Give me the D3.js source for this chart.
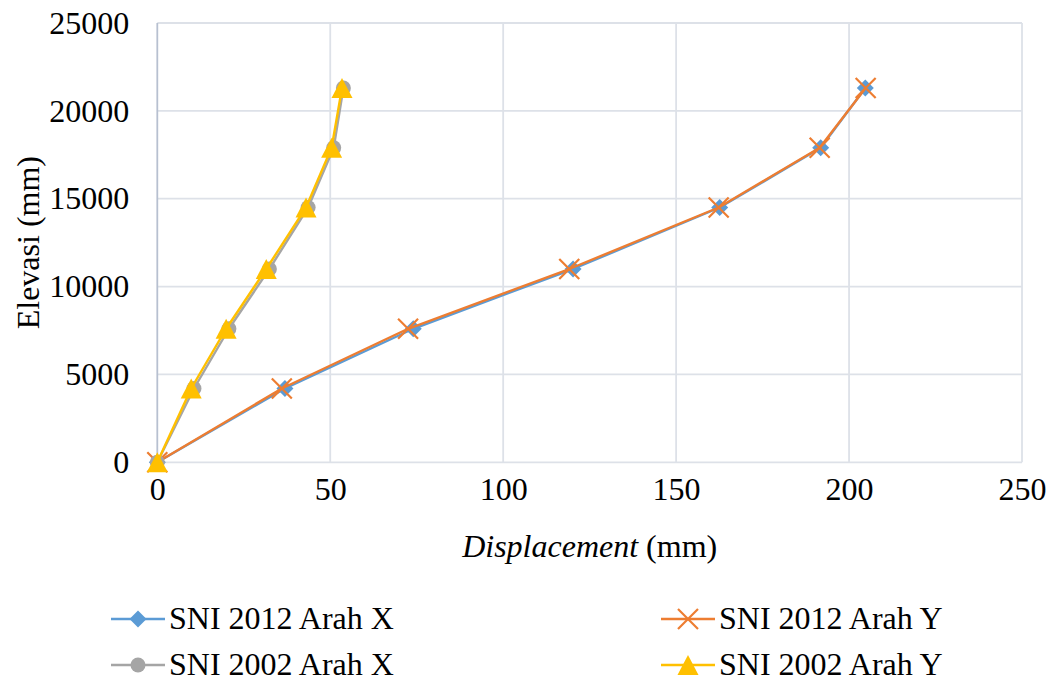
<!DOCTYPE html>
<html>
<head>
<meta charset="utf-8">
<script src="https://cdn.jsdelivr.net/npm/d3@7"></script>
<style>
  html, body { margin: 0; padding: 0; background: #fff; }
  svg { display: block; }
  text { font-family: "Liberation Serif", "Times New Roman", serif; fill: #000; }
</style>
</head>
<body>
<svg id="chart" width="1052" height="682"></svg>
<script>
// Floor elevations (mm)
const elevations = [0, 4200, 7600, 11000, 14500, 17900, 21300];

// Storey displacements (mm) per code and direction
const sni2012X = [0, 36.9, 74.0, 120.2, 162.6, 191.8, 204.7];
const sni2012Y = [0, 36.0, 72.5, 119.1, 162.3, 191.5, 204.8];
const sni2002X = [0, 10.6, 20.7, 32.4, 43.6, 51.0, 53.8];
const sni2002Y = [0, 9.8, 19.9, 31.5, 43.0, 50.4, 53.4];

const seriesNames = ["SNI 2012 Arah X", "SNI 2012 Arah Y", "SNI 2002 Arah X", "SNI 2002 Arah Y"];
const xTicks = [0, 50, 100, 150, 200, 250];
const yTicks = [0, 5000, 10000, 15000, 20000, 25000];

const series = [
  { name: seriesNames[0], values: sni2012X, color: "#5b9bd5", marker: "diamond" },
  { name: seriesNames[1], values: sni2012Y, color: "#ed7d31", marker: "cross" },
  { name: seriesNames[2], values: sni2002X, color: "#a5a5a5", marker: "circle" },
  { name: seriesNames[3], values: sni2002Y, color: "#ffc000", marker: "triangle" }
];

const svg = d3.select("#chart");
const plot = { left: 157.3, right: 1022, top: 23, bottom: 462.3 };

const x = d3.scaleLinear().domain([0, 250]).range([plot.left, plot.right]);
const y = d3.scaleLinear().domain([0, 25000]).range([plot.bottom, plot.top]);

// Gridlines
const grid = svg.append("g");
grid.selectAll("line.h").data(yTicks).join("line")
  .attr("x1", plot.left).attr("x2", plot.right)
  .attr("y1", d => y(d)).attr("y2", d => y(d))
  .attr("stroke", "#dde1e8").attr("stroke-width", 1.8);
grid.selectAll("line.v").data(xTicks.slice(1)).join("line")
  .attr("x1", d => x(d)).attr("x2", d => x(d))
  .attr("y1", plot.top).attr("y2", plot.bottom)
  .attr("stroke", "#dde1e8").attr("stroke-width", 1.8);

// Vertical axis line
svg.append("line")
  .attr("x1", x(0)).attr("x2", x(0))
  .attr("y1", plot.top).attr("y2", plot.bottom)
  .attr("stroke", "#b7c0d0").attr("stroke-width", 1.8);

// Tick labels
const fs = 32;
const yAxis = d3.axisLeft(y).tickValues(yTicks).tickFormat(d3.format("d")).tickSize(0).tickPadding(28);
const gy = svg.append("g").attr("transform", `translate(${plot.left},0)`).call(yAxis);
gy.select(".domain").remove();
gy.selectAll("text").attr("font-size", fs).attr("font-family", "Liberation Serif, Times New Roman, serif")
  .attr("fill", "#000").attr("dy", "0.32em");

const xAxis = d3.axisBottom(x).tickValues(xTicks).tickFormat(d3.format("d")).tickSize(0).tickPadding(27);
const gx = svg.append("g").attr("transform", `translate(0,${plot.bottom})`).call(xAxis);
gx.select(".domain").remove();
gx.selectAll("text").attr("font-size", fs).attr("font-family", "Liberation Serif, Times New Roman, serif")
  .attr("fill", "#000").attr("dy", "0.32em");

// Axis titles
const xt = svg.append("text")
  .attr("x", (plot.left + plot.right) / 2).attr("y", 557)
  .attr("text-anchor", "middle").attr("font-size", fs);
xt.append("tspan").attr("font-style", "italic").text("Displacement");
xt.append("tspan").text(" (mm)");

svg.append("text")
  .attr("transform", `translate(39,${(plot.top + plot.bottom) / 2}) rotate(-90)`)
  .attr("text-anchor", "middle").attr("font-size", fs)
  .text("Elevasi (mm)");

// Marker shapes
function markerPath(type) {
  const p = d3.path();
  if (type === "diamond") {
    const r = 8.5;
    p.moveTo(0, -r); p.lineTo(r, 0); p.lineTo(0, r); p.lineTo(-r, 0); p.closePath();
  } else if (type === "circle") {
    p.arc(0, 0, 7.5, 0, 2 * Math.PI);
  } else if (type === "triangle") {
    p.moveTo(0, -10); p.lineTo(10.5, 10); p.lineTo(-10.5, 10); p.closePath();
  } else if (type === "cross") {
    const r = 10;
    p.moveTo(-r, -r); p.lineTo(r, r); p.moveTo(r, -r); p.lineTo(-r, r);
  }
  return p.toString();
}

function drawMarker(sel, s) {
  if (s.marker === "cross") {
    sel.attr("fill", "none").attr("stroke", s.color).attr("stroke-width", 2.2);
  } else {
    sel.attr("fill", s.color).attr("stroke", "none");
  }
  sel.attr("d", markerPath(s.marker));
}

const line = d3.line().x(d => x(d[0])).y(d => y(d[1]));

// Series, each drawn with its line then its markers
series.forEach(s => {
  const pts = s.values.map((v, i) => [v, elevations[i]]);
  const g = svg.append("g");
  g.append("path").datum(pts).attr("d", line)
    .attr("fill", "none").attr("stroke", s.color).attr("stroke-width", 2.4)
    .attr("stroke-linejoin", "round");
  g.selectAll("path.m").data(pts).join("path").attr("class", "m")
    .attr("transform", d => `translate(${x(d[0])},${y(d[1])})`)
    .call(sel => drawMarker(sel, s));
});

// Legend, two columns
const legendPos = [
  { lx: 111, ly: 619 }, { lx: 661, ly: 619 },
  { lx: 111, ly: 665 }, { lx: 661, ly: 665 }
];
series.forEach((s, i) => {
  const { lx, ly } = legendPos[i];
  const g = svg.append("g").attr("transform", `translate(${lx},${ly})`);
  g.append("line").attr("x1", 0).attr("x2", 54).attr("y1", 0).attr("y2", 0)
    .attr("stroke", s.color).attr("stroke-width", 2.4);
  g.append("path").attr("transform", "translate(27,0)").call(sel => drawMarker(sel, s));
  g.append("text").attr("x", 58).attr("y", 0).attr("dy", "0.3em")
    .attr("font-size", fs).text(s.name);
});
</script>
</body>
</html>
